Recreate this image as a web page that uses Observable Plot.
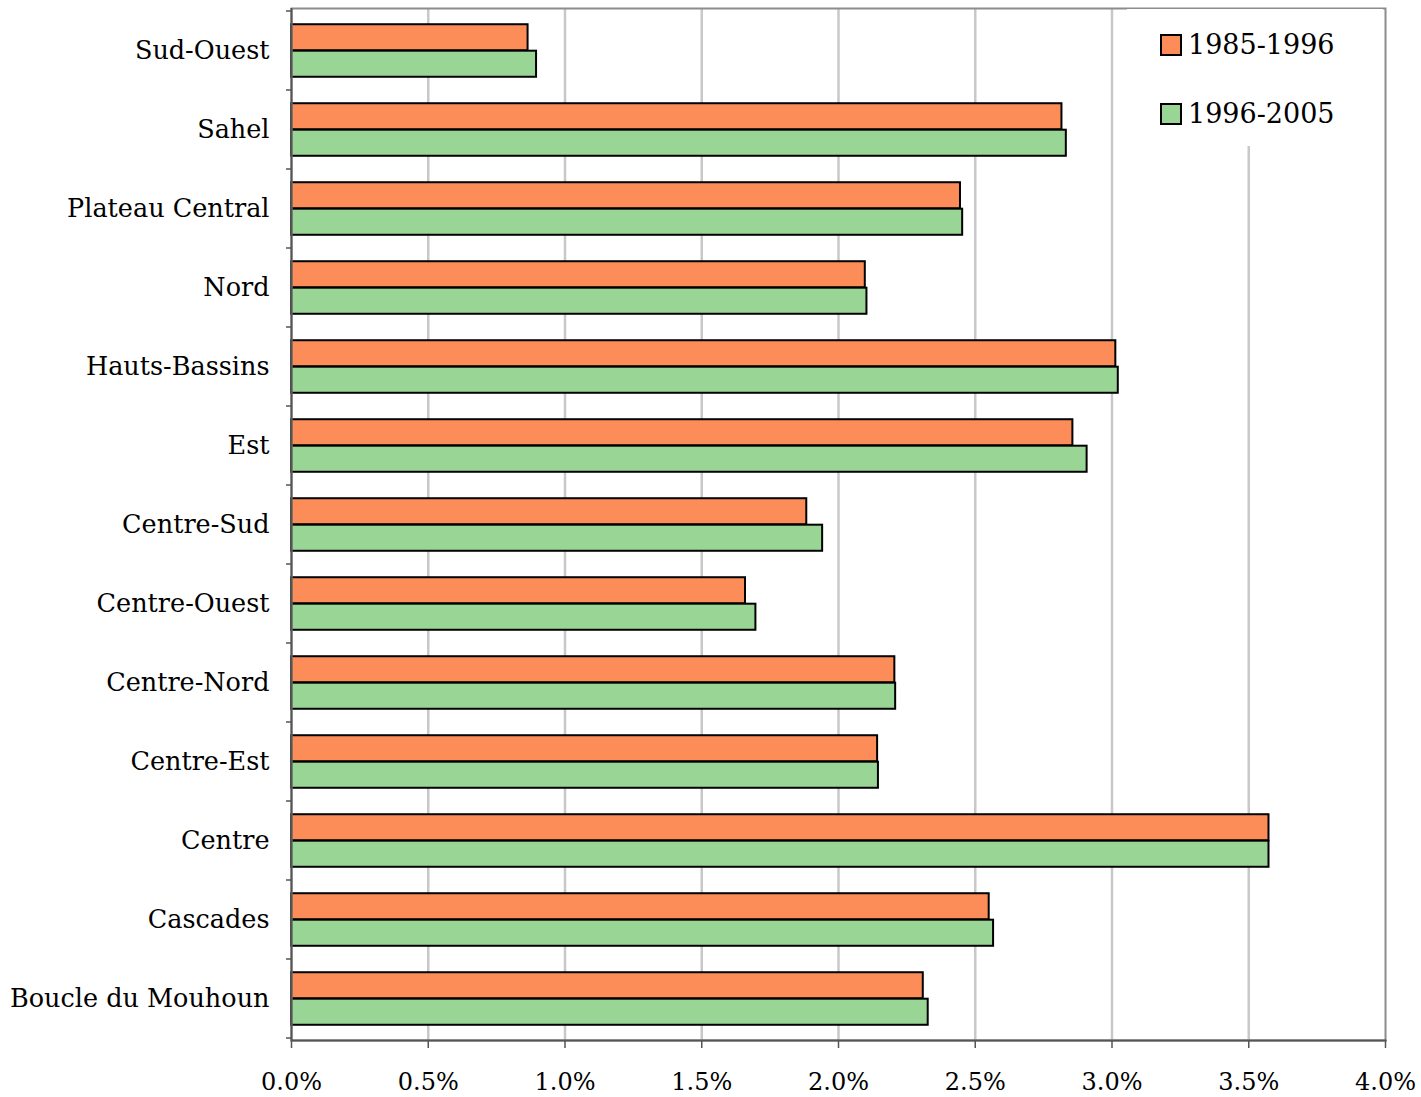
<!DOCTYPE html>
<html>
<head>
<meta charset="utf-8">
<script src="https://cdn.jsdelivr.net/npm/d3@7"></script>
<script src="https://cdn.jsdelivr.net/npm/@observablehq/plot@0.6"></script>
<style>
  html, body { margin: 0; padding: 0; background: #fff; }
  #wrap { position: relative; width: 1421px; height: 1097px; font-family: "DejaVu Serif", serif; }
  #legend { position: absolute; left: 1127px; top: 9px; width: 256px; height: 137px; background: #fff; }
  .item { position: absolute; left: 33px; display: flex; align-items: center; font-size: 27px; color: #000; white-space: nowrap; }
  .sw { width: 18px; height: 18px; border: 2px solid #000; margin-right: 6px; }
</style>
</head>
<body>
<div id="wrap"><div id="legend"></div></div>
<script>
// Annual population growth by region, two census intervals
const regions = [
  "Sud-Ouest", "Sahel", "Plateau Central", "Nord", "Hauts-Bassins", "Est",
  "Centre-Sud", "Centre-Ouest", "Centre-Nord", "Centre-Est", "Centre",
  "Cascades", "Boucle du Mouhoun"
];
const periods = ["1985-1996", "1996-2005"];
const growth1985_1996 = [0.865, 2.817, 2.446, 2.098, 3.014, 2.857, 1.884, 1.660, 2.206, 2.143, 3.574, 2.551, 2.310];
const growth1996_2005 = [0.896, 2.833, 2.454, 2.104, 3.023, 2.909, 1.942, 1.698, 2.209, 2.146, 3.574, 2.567, 2.328];
const xTicks = [0, 0.5, 1, 1.5, 2, 2.5, 3, 3.5, 4];
const colors = ["#fc8d59", "#99d594"];

const rows = regions.flatMap((region, i) => [
  {region, period: periods[0], value: growth1985_1996[i]},
  {region, period: periods[1], value: growth1996_2005[i]}
]);

const W = 1421, H = 1097;
const margin = {top: 8, right: 36, bottom: 57, left: 291};
const step = (H - margin.top - margin.bottom) / regions.length;

// each region band: outer padding step/6, two bars of step/3
const barMark = (k) => Plot.barX(rows.filter(d => d.period === periods[k]), {
  x: "value", y: "region",
  fill: colors[k], stroke: "#000", strokeWidth: 2,
  insetTop: k === 0 ? step / 6 : step / 2,
  insetBottom: k === 0 ? step / 2 : step / 6
});

const chart = Plot.plot({
  width: W, height: H,
  marginTop: margin.top, marginRight: margin.right,
  marginBottom: margin.bottom, marginLeft: margin.left,
  style: {fontFamily: "DejaVu Serif, serif", fontSize: "24px", color: "#000", background: "#fff", overflow: "visible"},
  x: {domain: [0, 4]},
  y: {domain: regions, padding: 0},
  marks: [
    Plot.ruleX(xTicks.filter(t => t > 0 && t < 4), {stroke: "#c8c8c8", strokeWidth: 2.5}),
    barMark(0),
    barMark(1),
    Plot.frame({stroke: "#8c8c8c", strokeWidth: 2}),
    Plot.ruleX([0], {stroke: "#555", strokeWidth: 2}),
    Plot.frame({anchor: "bottom", stroke: "#555", strokeWidth: 2}),
    Plot.axisX({
      ticks: xTicks, tickSize: 8, tickPadding: 24, label: null,
      tickFormat: d => d.toFixed(1) + "%", fontSize: 24, stroke: "#555", strokeWidth: 1.5
    }),
    Plot.axisY({tickSize: 0, tickPadding: 22, label: null, fontSize: 25.5})
  ]
});

document.getElementById("wrap").prepend(chart);

// short ticks on the category axis at band boundaries
const ys = chart.scale("y");
const svg = d3.select(chart.tagName.toLowerCase() === "svg" ? chart : chart.querySelector("svg"));
const bounds = regions.map(r => ys.apply(r)).concat([ys.apply(regions[regions.length - 1]) + ys.bandwidth]);
svg.append("g")
  .attr("stroke", "#555").attr("stroke-width", 1.5)
  .selectAll("line").data(bounds).join("line")
  .attr("x1", margin.left - 5).attr("x2", margin.left)
  .attr("y1", d => d).attr("y2", d => d);

// legend
const legend = d3.select("#legend");
periods.forEach((p, k) => {
  const item = legend.append("div").attr("class", "item").style("top", (k === 0 ? 20 : 89) + "px");
  item.append("div").attr("class", "sw").style("background", colors[k]);
  item.append("span").text(p);
});
</script>
</body>
</html>
